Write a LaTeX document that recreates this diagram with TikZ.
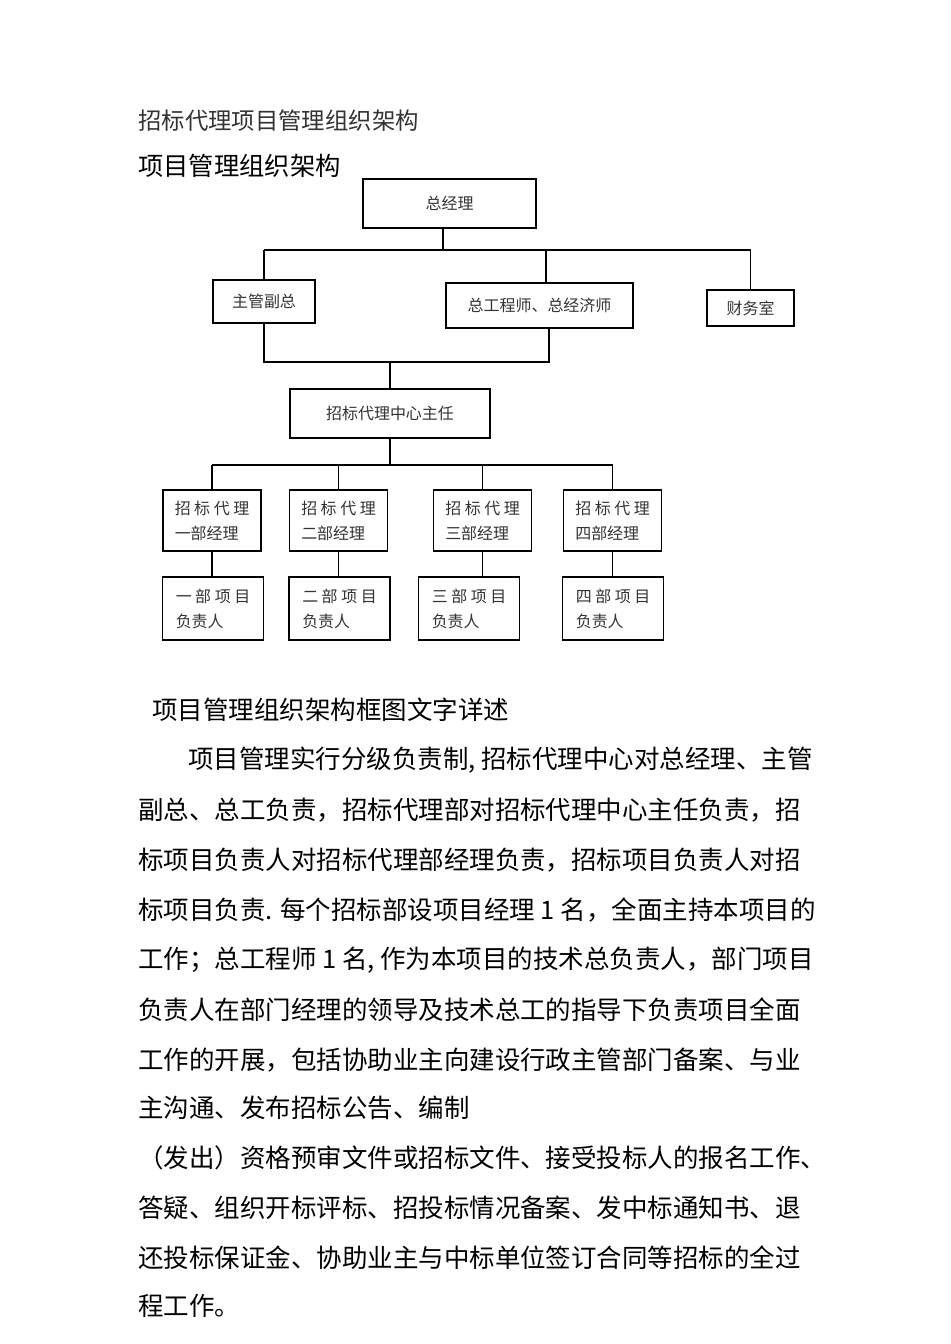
\documentclass[tikz,border=0pt]{standalone}
\usepackage{fontspec}
\newfontfamily\cjk{Noto Sans CJK SC}
\newcommand{\chgap}{\hspace{2pt}}

\begin{document}
\begin{tikzpicture}[x=0.02cm, y=-0.02cm, font=\cjk,
            box/.style={draw, line width=0.8pt, text=black!80, inner sep=0pt, align=left, font=\cjk\fontsize{9.1pt}{14.2pt}\selectfont},
            unitbox/.style={box, minimum width=1.96cm, minimum height=1.22cm},
            leadbox/.style={box, minimum width=2.02cm, minimum height=1.26cm},
            link/.style={line width=0.7pt},
            body/.style={anchor=west, inner sep=0pt, font=\cjk\fontsize{14.5pt}{17pt}\selectfont}]

            \useasboundingbox (0,0) rectangle (950,1344);

            % Titles
            \node[anchor=west, inner sep=0pt, text=black!80, font=\cjk\fontsize{13.3pt}{16pt}\selectfont] (title) at (138,121) {招标代理项目管理组织架构};
            \node[anchor=west, inner sep=0pt, font=\cjk\fontsize{14.4pt}{17pt}\selectfont] (subtitle) at (138,166) {项目管理组织架构};

            % Management level
            \node[box, minimum width=3.46cm, minimum height=0.98cm] (zjl) at (449.5,203.5) {总经理};
            \node[box, minimum width=2.04cm, minimum height=0.86cm] (fz) at (264,301.5) {主管副总};
            \node[box, minimum width=3.74cm, minimum height=0.9cm] (zgc) at (539.5,305.5) {总工程师、总经济师};
            \node[box, minimum width=1.74cm, minimum height=0.72cm] (cws) at (750.5,308) {财务室};
            \node[box, minimum width=4cm, minimum height=0.98cm] (zr) at (390,413.5) {招标代理中心主任};

            % Departments and project leaders
            \foreach \i/\num/\xa/\xb in {1/一/212/213, 2/二/338.5/339.5, 3/三/482.5/469, 4/四/612.5/613} {
                \node[unitbox] (bu\i) at (\xa,520.5) {招\chgap 标\chgap 代\chgap 理\\\num 部经理};
                \node[leadbox] (fzr\i) at (\xb,608.5) {\num\chgap 部\chgap 项\chgap 目\\负责人};
            }

            % Connectors
            \coordinate (topbus) at (0,250);
            \coordinate (midbus) at (0,362);
            \coordinate (deptbus) at (0,465);
            \coordinate (zjldrop) at ([xshift=-0.13cm]zjl.south);
            \coordinate (zgcup) at ([xshift=0.13cm]zgc.north);
            \coordinate (zgcdown) at ([xshift=0.19cm]zgc.south);
            \draw[link] (zjldrop) -- (zjldrop |- topbus);
            \draw[link] (fz.north |- topbus) -- (cws.north |- topbus);
            \foreach \n in {fz, zgcup, cws.north}
                \draw[link] (\n |- topbus) -- (\n);
            \draw[link] (fz.south) -- (fz.south |- midbus) -| (zgcdown);
            \draw[link] (zr.north |- midbus) -- (zr.north);
            \draw[link] (zr.south) -- (zr.south |- deptbus);
            \draw[link] (bu1.north |- deptbus) -- (bu4.north |- deptbus);
            \foreach \i in {1,...,4} {
                \draw[link] (bu\i.north |- deptbus) -- (bu\i.north);
                \draw[link] (bu\i.south) -- (bu\i.south |- fzr\i.north);
            }

            % Description
            \node[body] (head) at (152,710) {项目管理组织架构框图文字详述};
            \node[body] (l1) at (188,760) {项目管理实行分级负责制, 招标代理中心对总经理、主管};
            \node[body] (l2) at (138,810) {副总、总工负责，招标代理部对招标代理中心主任负责，招};
            \node[body] (l3) at (138,860) {标项目负责人对招标代理部经理负责，招标项目负责人对招};
            \node[body] (l4) at (138,910) {标项目负责. 每个招标部设项目经理 1 名，全面主持本项目的};
            \node[body] (l5) at (138,960) {工作；总工程师 1 名, 作为本项目的技术总负责人，部门项目};
            \node[body] (l6) at (138,1010) {负责人在部门经理的领导及技术总工的指导下负责项目全面};
            \node[body] (l7) at (138,1060) {工作的开展，包括协助业主向建设行政主管部门备案、与业};
            \node[body] (l8) at (138,1108) {主沟通、发布招标公告、编制};
            \node[body] (l9) at (138,1158) {（发出）资格预审文件或招标文件、接受投标人的报名工作、};
            \node[body] (l10) at (138,1208) {答疑、组织开标评标、招投标情况备案、发中标通知书、退};
            \node[body] (l11) at (138,1258) {还投标保证金、协助业主与中标单位签订合同等招标的全过};
            \node[body] (l12) at (138,1306) {程工作。};
        \end{tikzpicture}
\end{document}
